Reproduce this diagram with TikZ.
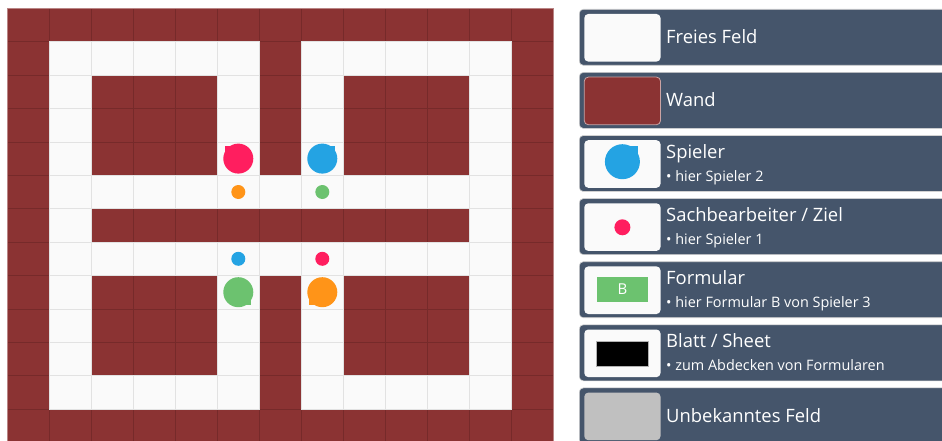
\documentclass[tikz,border=0pt]{standalone}
\usepackage{fontspec}
\setsansfont{Open Sans}
\usetikzlibrary{positioning}
\definecolor{wallred}{RGB}{139,51,51}
\definecolor{wallline}{RGB}{118,42,42}
\definecolor{freewhite}{RGB}{250,250,250}
\definecolor{freeline}{RGB}{226,226,226}
\definecolor{panelblue}{RGB}{69,85,107}
\definecolor{pinkP}{RGB}{255,30,95}
\definecolor{blueP}{RGB}{36,163,227}
\definecolor{greenP}{RGB}{108,194,111}
\definecolor{orangeP}{RGB}{255,148,24}
\definecolor{unknowngrey}{RGB}{192,192,192}
\tikzset{
  wallcell/.style={fill=wallred, draw=wallline, line width=0.6pt},
  freecell/.style={fill=freewhite, draw=freeline, line width=0.6pt},
  panel/.style={fill=panelblue, draw=gray!35, line width=0.6pt, rounded corners=4pt},
  iconbox/.style={rounded corners=4pt},
  title/.style={anchor=base west, text=white, inner sep=0pt, font=\sffamily\fontsize{18.4}{22}\selectfont},
  subtitle/.style={anchor=base west, text=white, inner sep=0pt, font=\sffamily\fontsize{14.4}{16}\selectfont}
}
% player with its little pointed corner: x, y, colour, corner x, corner y, radius
\newcommand{\spielerblob}[6]{%
  \fill[#3] (#1,#2) circle (#6pt);
  \fill[#3] (#1,#2) rectangle ++({#4},{#5});
}

\begin{document}
\begin{tikzpicture}[x=1pt, y=-1pt]
  \clip (0,0) rectangle (942,441);
  \fill[white] (0,0) rectangle (942,441);

  % board
  \foreach \r in {0,...,12}
    \foreach \c in {0,...,12}
      \draw[wallcell] ({7.3+\c*42},{8.3+\r*33.4}) rectangle ++(42,33.4);
  \foreach \r/\cols in {1/{1,2,3,4,5,7,8,9,10,11}, 2/{1,5,7,11}, 3/{1,5,7,11},
      4/{1,5,7,11}, 5/{1,...,11}, 6/{1,11}, 7/{1,...,11}, 8/{1,5,7,11},
      9/{1,5,7,11}, 10/{1,5,7,11}, 11/{1,2,3,4,5,7,8,9,10,11}}
    \foreach \c in \cols
      \draw[freecell] ({7.3+\c*42},{8.3+\r*33.4}) rectangle ++(42,33.4);
  \draw[wallred!60!white, line width=0.8pt] (7.3,8.3) rectangle (553.3,442.5);

  \spielerblob{238.3}{158.6}{pinkP}{-13}{-13}{15}
  \spielerblob{322.3}{158.6}{blueP}{13}{-13}{15}
  \spielerblob{238.3}{292.2}{greenP}{13}{13}{15}
  \spielerblob{322.3}{292.2}{orangeP}{-13}{13}{15}
  \fill[orangeP] (238.3,192) circle (7pt);
  \fill[greenP] (322.3,192) circle (7pt);
  \fill[blueP] (238.3,258.8) circle (7pt);
  \fill[pinkP] (322.3,258.8) circle (7pt);

  % legend
  \foreach \i in {0,...,6}
    \draw[panel] (579.3,{9.3+\i*63.1}) rectangle (990,{65.3+\i*63.1});

  \fill[iconbox, freewhite] (584.3,14) rectangle (660.5,61.6);
  \filldraw[iconbox, fill=wallred, draw=wallred!45!white, line width=0.8pt] (584.3,77.1) rectangle (660.5,124.7);
  \fill[iconbox, freewhite] (584.3,140.2) rectangle (660.5,187.8);
  \fill[iconbox, freewhite] (584.3,203.3) rectangle (660.5,250.9);
  \fill[iconbox, freewhite] (584.3,266.4) rectangle (660.5,314);
  \fill[iconbox, freewhite] (584.3,329.5) rectangle (660.5,377.1);
  \fill[iconbox, unknowngrey] (584.3,392.6) rectangle (660.5,440.2);

  \spielerblob{622.4}{161.7}{blueP}{16}{-16}{17.5}
  \fill[pinkP] (622.4,227.3) circle (8pt);
  \fill[greenP] (596.7,276.7) rectangle (648.3,302.3);
  \node[text=white, font=\sffamily\fontsize{15}{17}\selectfont] (formB) at (622.5,289.5) {B};
  \filldraw[fill=black, draw=gray!60, line width=0.5pt] (596.7,341) rectangle (648.3,366.7);

  \node[title] (freies) at (666,43.3) {Freies Feld};
  \node[title] (wand) at (666,106.4) {Wand};
  \node[title] (spieler) at (666,158) {Spieler};
  \node[subtitle] (spielerSub) at (666,181) {• hier Spieler 2};
  \node[title] (ziel) at (666,221.1) {Sachbearbeiter / Ziel};
  \node[subtitle] (zielSub) at (666,244.1) {• hier Spieler 1};
  \node[title] (formular) at (666,284.2) {Formular};
  \node[subtitle] (formularSub) at (666,307.2) {• hier Formular B von Spieler 3};
  \node[title] (blatt) at (666,347.3) {Blatt / Sheet};
  \node[subtitle] (blattSub) at (666,370.3) {• zum Abdecken von Formularen};
  \node[title] (unbekannt) at (666,422.4) {Unbekanntes Feld};
\end{tikzpicture}
\end{document}
